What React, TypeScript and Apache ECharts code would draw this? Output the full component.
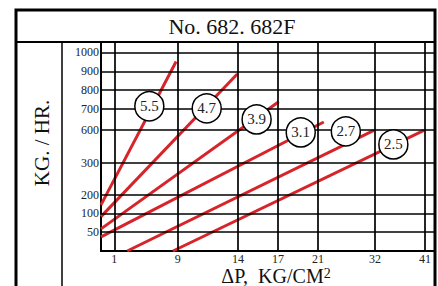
import React, { useEffect, useRef } from "react";
import * as echarts from "echarts";

// Tick labels of the (hand-drawn, non-linear) axes
const xTicks = [1, 9, 14, 17, 21, 32, 41];
const yTicks = [50, 100, 200, 300, 600, 700, 800, 900, 1000];

// Axis layout: where each tick sits along the drawn axis (fraction 0..1)
const xTickPos = [0.036, 0.225, 0.408, 0.532, 0.652, 0.817, 0.967];
const yTickPos = [0.091, 0.183, 0.269, 0.416, 0.577, 0.678, 0.769, 0.861, 0.952];

// Curves (ΔP in KG/CM², flow in KG/HR)
const curveNames = ["5.5", "4.7", "3.9", "3.1", "2.7", "2.5"];
const startDP = [0, 0, 0, 0, 2.8, 8.6];
const startKG = [144, 90, 58, 37, 0, 0];
const endDP = [9, 14, 17, 22, 32, 41];
const endKG = [950, 885, 740, 640, 600, 600];
const labelDP = [5.6, 11.5, 15.4, 19.2, 26.4, 35.5];
const labelKG = [716, 705, 652, 582, 591, 475];

function makeScale(ticks: number[], pos: number[]) {
  const t = [0, ...ticks];
  const p = [0, ...pos];
  return (v: number) => {
    let i = 0;
    while (i < t.length - 2 && v > t[i + 1]) i++;
    return p[i] + ((v - t[i]) / (t[i + 1] - t[i])) * (p[i + 1] - p[i]);
  };
}
const sx = makeScale(xTicks, xTickPos);
const sy = makeScale(yTicks, yTickPos);

const SERIF = "Liberation Serif";

export default function App() {
  const ref = useRef<HTMLDivElement>(null);
  useEffect(() => {
    if (!ref.current) return;
    const chart = echarts.init(ref.current, undefined, { renderer: "svg" });
    const tickLabel = {
      position: "start",
      distance: 2,
      color: "#222",
      fontSize: 12,
      lineHeight: 12,
      fontFamily: SERIF,
    };
    const gridLines: any[] = [];
    xTicks.forEach((v, i) =>
      gridLines.push({ xAxis: xTickPos[i], label: { ...tickLabel, formatter: String(v) } })
    );
    yTicks.forEach((v, i) =>
      gridLines.push({ yAxis: yTickPos[i], label: { ...tickLabel, formatter: String(v) } })
    );
    const series: any[] = [
      {
        type: "line",
        data: [],
        silent: true,
        z: 1,
        color: "#000",
        markLine: {
          silent: true,
          symbol: "none",
          animation: false,
          lineStyle: { color: "#000", width: 1.7, type: "solid" },
          label: tickLabel,
          emphasis: { disabled: true },
          data: gridLines,
        },
      },
    ];
    curveNames.forEach((n, i) => {
      series.push({
        type: "line",
        name: n,
        silent: true,
        z: 3,
        showSymbol: false,
        symbol: "none",
        clip: true,
        lineStyle: { color: "#d7242a", width: 3 },
        data: [
          [sx(startDP[i]), sy(startKG[i])],
          [sx(endDP[i]), sy(endKG[i])],
        ],
      });
    });
    series.push({
      type: "scatter",
      silent: true,
      z: 5,
      symbol: "circle",
      symbolSize: 29,
      itemStyle: { color: "#fff", borderColor: "#000", borderWidth: 1.5, opacity: 1 },
      label: {
        show: true,
        position: "inside",
        formatter: (p: any) => p.name,
        color: "#222",
        fontSize: 15,
        fontFamily: SERIF,
      },
      data: curveNames.map((n, i) => ({
        name: n,
        value: [sx(labelDP[i]), sy(labelKG[i])],
      })),
    });

    chart.setOption({
      animation: false,
      backgroundColor: "#fff",
      grid: {
        left: 101,
        right: 3,
        top: 42,
        bottom: 35,
        show: true,
        borderColor: "#000",
        borderWidth: 2,
      },
      xAxis: { type: "value", min: 0, max: 1, show: false },
      yAxis: { type: "value", min: 0, max: 1, show: false },
      series,
      graphic: [
        {
          type: "line",
          shape: { x1: 16, y1: 42, x2: 435, y2: 42 },
          style: { stroke: "#000", lineWidth: 2 },
          z: 50,
        },
        {
          type: "line",
          shape: { x1: 62, y1: 42, x2: 62, y2: 290 },
          style: { stroke: "#000", lineWidth: 1.5 },
          z: 50,
        },
        {
          type: "rect",
          shape: { x: 16, y: 10, width: 419, height: 300 },
          style: { fill: "none", stroke: "#000", lineWidth: 3 },
          z: 60,
        },
        {
          type: "text",
          x: 232,
          y: 26,
          z: 60,
          style: {
            text: "No. 682. 682F",
            fontFamily: SERIF,
            fontSize: 22,
            align: "center",
            verticalAlign: "middle",
            fill: "#111",
          },
        },
        {
          type: "text",
          x: 42,
          y: 143,
          rotation: Math.PI / 2,
          z: 60,
          style: {
            text: "KG. / HR.",
            fontFamily: SERIF,
            fontSize: 21,
            align: "center",
            verticalAlign: "middle",
            fill: "#111",
          },
        },
        {
          type: "text",
          x: 276,
          y: 276,
          z: 60,
          style: {
            text: "{a|ΔP,  KG/CM}{s|2}",
            align: "center",
            verticalAlign: "middle",
            rich: {
              a: { fontFamily: SERIF, fontSize: 20, lineHeight: 20, fill: "#111" },
              s: { fontFamily: SERIF, fontSize: 14, lineHeight: 20, fill: "#111", verticalAlign: "top", padding: [0, 0, 8, 0] },
            },
          },
        },
      ],
    });
    return () => chart.dispose();
  }, []);
  return (
    <div
      ref={ref}
      style={{ position: "fixed", left: 0, top: 0, width: 438, height: 286, background: "#fff" }}
    />
  );
}
